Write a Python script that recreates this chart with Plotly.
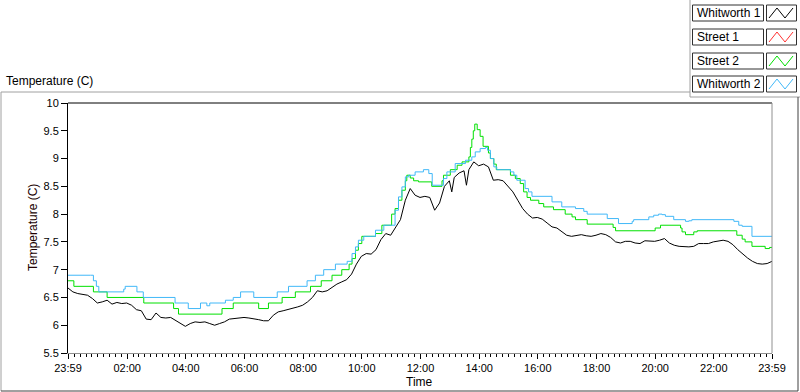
import plotly.graph_objects as go

# ---------------- data (minutes after 23:59) ----------------
series_names = ["Whitworth 1", "Street 1", "Street 2", "Whitworth 2"]
series_colors = ["#000000", "#ff3030", "#00e000", "#40b8f8"]

# Whitworth 1 sampled every 10 minutes
whitworth1_minutes = list(range(0, 1441, 10))
whitworth1_temp = [
    6.67, 6.60, 6.57, 6.56, 6.54, 6.48, 6.40, 6.42, 6.45, 6.38, 6.41, 6.39,
    6.40, 6.36, 6.28, 6.26, 6.11, 6.10, 6.22, 6.14, 6.13, 6.14, 6.09, 6.03,
    5.98, 6.03, 6.06, 6.05, 6.06, 6.03, 6.00, 6.03, 6.06, 6.11, 6.12, 6.13,
    6.14, 6.13, 6.12, 6.10, 6.08, 6.08, 6.18, 6.24, 6.26, 6.28, 6.30, 6.33,
    6.36, 6.42, 6.50, 6.62, 6.60, 6.62, 6.68, 6.74, 6.78, 6.82, 6.92, 7.10,
    7.24, 7.29, 7.28, 7.36, 7.54, 7.65, 7.62, 7.75, 7.90, 8.25, 8.46, 8.34,
    8.30, 8.32, 8.30, 8.07, 8.20, 8.50, 8.60, 8.66, 8.74, 8.78, 8.80, 8.94,
    8.87, 8.90, 8.85, 8.61, 8.62, 8.60, 8.50, 8.40, 8.25, 8.10, 8.00, 7.93,
    7.94, 7.91, 7.84, 7.77, 7.75, 7.68, 7.62, 7.60, 7.62, 7.63, 7.61,
    7.60, 7.62, 7.65, 7.63, 7.58, 7.50, 7.48, 7.51, 7.51, 7.48, 7.47, 7.52,
    7.51, 7.51, 7.53, 7.56, 7.48, 7.44, 7.42, 7.41, 7.41, 7.42, 7.47, 7.47,
    7.47, 7.50, 7.52, 7.53, 7.51, 7.45, 7.36, 7.28, 7.21, 7.15, 7.11, 7.10,
    7.11, 7.15,
]
# short downward spikes of Whitworth 1
whitworth1_spike_minutes = [785, 815]
whitworth1_spike_temp = [8.40, 8.52]

# Street 1: no visible data
street1_minutes = []
street1_temp = []

# Street 2: value changes (step logger)
street2_minutes = [
    0, 12, 52, 80, 155, 216, 226, 315, 338, 390, 410, 438, 465, 496, 518, 540,
    560, 575, 581, 588, 594, 601, 629, 642, 662, 669, 676, 683, 690, 693, 700,
    707, 717, 744, 765, 768, 782, 796, 806, 820, 823, 826, 829, 832, 837, 843,
    849, 860, 864, 871, 876, 905, 915, 925, 932, 939, 946, 963, 973, 993, 1017,
    1031, 1038, 1062, 1115, 1120, 1201, 1212, 1253, 1256, 1263, 1280, 1287,
    1368, 1379, 1385, 1399, 1426, 1435, 1440,
]
street2_temp = [
    6.8, 6.7, 6.6, 6.5, 6.4, 6.3, 6.2, 6.3, 6.4, 6.3, 6.4, 6.5, 6.6, 6.7, 6.8, 6.9,
    7.0, 7.1, 7.2, 7.35, 7.47, 7.6, 7.65, 7.8, 8.0, 8.1, 8.25, 8.43, 8.6, 8.7, 8.65,
    8.6, 8.58, 8.5, 8.6, 8.7, 8.8, 8.88, 8.94, 9.03, 9.2, 9.35, 9.5, 9.62, 9.52, 9.4,
    9.22, 9.1, 9.0, 8.9, 8.8, 8.7, 8.64, 8.55, 8.4, 8.3, 8.25, 8.19, 8.13, 8.08, 8.0,
    7.95, 7.9, 7.82, 7.76, 7.7, 7.75, 7.8, 7.75, 7.68, 7.63, 7.68, 7.7,
    7.62, 7.55, 7.5, 7.42, 7.38, 7.4, 7.4,
]

# Whitworth 2: value changes (step logger)
whitworth2_minutes = [
    0, 46, 52, 58, 63, 114, 117, 141, 154, 219, 246, 271, 284, 290, 322, 338,
    353, 380, 428, 451, 489, 506, 523, 547, 571, 581, 588, 594, 605, 629, 646,
    669, 676, 683, 690, 697, 710, 727, 738, 745, 768, 775, 792, 813, 826, 833,
    843, 854, 858, 864, 871, 877, 905, 912, 918, 935, 942, 949, 990, 1010,
    1038, 1055, 1062, 1103, 1126, 1154, 1157, 1188, 1198, 1208, 1215, 1222,
    1239, 1263, 1270, 1276, 1362, 1372, 1379, 1399, 1440,
]
whitworth2_temp = [
    6.9, 6.9, 6.8, 6.7, 6.6, 6.65, 6.7, 6.6, 6.5, 6.4, 6.3, 6.4, 6.35, 6.4, 6.45, 6.5,
    6.6, 6.5, 6.6, 6.7, 6.8, 6.9, 7.0, 7.1, 7.15, 7.29, 7.41, 7.53, 7.6, 7.71, 7.8,
    8.07, 8.31, 8.49, 8.67, 8.7, 8.76, 8.8, 8.73, 8.52, 8.64, 8.76, 8.91, 8.97, 9.03, 9.12,
    9.18, 9.2, 9.15, 9.0, 8.85, 8.8, 8.76, 8.7, 8.61, 8.46, 8.4, 8.32, 8.22, 8.13,
    8.1, 8.05, 8.0, 7.92, 7.83, 7.87, 7.9, 7.95, 7.98, 8.0, 7.99, 7.96,
    7.9, 7.87, 7.88, 7.9, 7.87, 7.8, 7.78, 7.6, 7.6,
]

x_tick_minutes = [0, 121, 241, 361, 481, 601, 721, 841, 961, 1081, 1201, 1321, 1440]
x_tick_labels = ["23:59", "02:00", "04:00", "06:00", "08:00", "10:00", "12:00",
                 "14:00", "16:00", "18:00", "20:00", "22:00", "23:59"]
y_tick_values = [5.5, 6, 6.5, 7, 7.5, 8, 8.5, 9, 9.5, 10]
y_tick_labels = ["5.5", "6", "6.5", "7", "7.5", "8", "8.5", "9", "9.5", "10"]

# ---------------- layout geometry (pixels) ----------------
WIDTH, HEIGHT = 800, 392
PL, PT, PW, PH = 68, 103, 704, 250


def fx(p):
    return (p - PL) / PW


def fy(p):
    return (PT + PH - p) / PH


FONT = "Liberation Sans, Arial, sans-serif"

# merge spikes into Whitworth 1
w1 = sorted(zip(whitworth1_minutes + whitworth1_spike_minutes,
                whitworth1_temp + whitworth1_spike_temp))
w1_x = [a for a, b in w1]
w1_y = [b for a, b in w1]

fig = go.Figure()
fig.add_trace(go.Scatter(x=w1_x, y=w1_y, mode="lines", name=series_names[0],
                         line=dict(color=series_colors[0], width=1)))
fig.add_trace(go.Scatter(x=street1_minutes, y=street1_temp, mode="lines", name=series_names[1],
                         line=dict(color=series_colors[1], width=1)))
fig.add_trace(go.Scatter(x=street2_minutes, y=street2_temp, mode="lines", name=series_names[2],
                         line=dict(color=series_colors[2], width=1, shape="hv")))
fig.add_trace(go.Scatter(x=whitworth2_minutes, y=whitworth2_temp, mode="lines", name=series_names[3],
                         line=dict(color=series_colors[3], width=1, shape="hv")))

shapes = []
# plot frame: top black, right gray
shapes.append(dict(type="line", xref="paper", yref="paper", x0=0, x1=1, y0=1, y1=1,
                   line=dict(color="#000000", width=1)))
shapes.append(dict(type="line", xref="paper", yref="paper", x0=1, x1=1, y0=0, y1=1,
                   line=dict(color="#909090", width=1)))
# outer panel frame
frame_gray = "#a0a0a0"
for (x0, y0, x1, y1, col) in [
    (1, 92, 690, 92, frame_gray),
    (1, 92, 1, 391, frame_gray),
    (690, 0, 690, 97, frame_gray),
    (690, 97, 800, 97, frame_gray),
    (1, 391, 798, 391, "#404040"),
    (798, 97, 798, 391, "#404040"),
]:
    shapes.append(dict(type="line", xref="paper", yref="paper",
                       x0=fx(x0), x1=fx(x1), y0=fy(y0), y1=fy(y1),
                       line=dict(color=col, width=1)))

annotations = []
legend_centers = [13, 37, 61, 84]
for name, col, c in zip(series_names, series_colors, legend_centers):
    shapes.append(dict(type="rect", xref="paper", yref="paper",
                       x0=fx(692.5), x1=fx(763.5), y0=fy(c - 8), y1=fy(c + 8),
                       line=dict(color="#303030", width=1), fillcolor="white"))
    shapes.append(dict(type="rect", xref="paper", yref="paper",
                       x0=fx(766.5), x1=fx(796.5), y0=fy(c - 8), y1=fy(c + 8),
                       line=dict(color="#303030", width=1), fillcolor="white"))
    pts = [(769, c + 5), (777, c - 5), (785, c + 5), (793, c - 5)]
    path = "M " + " L ".join(f"{fx(a):.5f},{fy(b):.5f}" for a, b in pts)
    shapes.append(dict(type="path", xref="paper", yref="paper", path=path,
                       line=dict(color=col, width=1)))
    annotations.append(dict(text=name, xref="paper", yref="paper", x=fx(695), y=fy(c),
                            xanchor="left", yanchor="middle", showarrow=False,
                            font=dict(family=FONT, size=12, color="#000000")))

annotations.append(dict(text="Temperature (C)", xref="paper", yref="paper", x=fx(4), y=fy(81),
                        xanchor="left", yanchor="middle", showarrow=False,
                        font=dict(family=FONT, size=12, color="#000000")))
annotations.append(dict(text="Temperature (C)", xref="paper", yref="paper", x=fx(33), y=fy(228),
                        xanchor="center", yanchor="middle", showarrow=False, textangle=-90,
                        font=dict(family=FONT, size=12, color="#200000")))
annotations.append(dict(text="Time", xref="paper", yref="paper", x=fx(419), y=fy(382),
                        xanchor="center", yanchor="middle", showarrow=False,
                        font=dict(family=FONT, size=12, color="#000000")))

fig.update_layout(
    width=WIDTH, height=HEIGHT,
    margin=dict(l=PL, r=WIDTH - PL - PW, t=PT, b=HEIGHT - PT - PH, pad=0),
    paper_bgcolor="white", plot_bgcolor="white",
    showlegend=False,
    shapes=shapes, annotations=annotations,
    font=dict(family=FONT, size=11, color="#000000"),
    xaxis=dict(range=[0, 1440], tickvals=x_tick_minutes, ticktext=x_tick_labels,
               showgrid=False, zeroline=False, showline=True, linecolor="#909090", linewidth=1,
               ticks="outside", ticklen=5, tickwidth=1, tickcolor="#000000",
               tickfont=dict(family=FONT, size=11, color="#000000"),
               minor=dict(dtick=12, tick0=1, ticks="outside", ticklen=3, tickwidth=1,
                          tickcolor="#000000", showgrid=False)),
    yaxis=dict(range=[5.5, 10], tickvals=y_tick_values, ticktext=y_tick_labels,
               showgrid=False, zeroline=False, showline=True, linecolor="#000000", linewidth=1,
               ticks="outside", ticklen=6, tickwidth=1, tickcolor="#000000",
               tickfont=dict(family=FONT, size=11, color="#000000")),
)

fig.write_html("out.html", config={"displayModeBar": False},
               post_script="document.body.style.margin='0';document.body.style.padding='0';"
                           "document.body.style.overflow='hidden';")
